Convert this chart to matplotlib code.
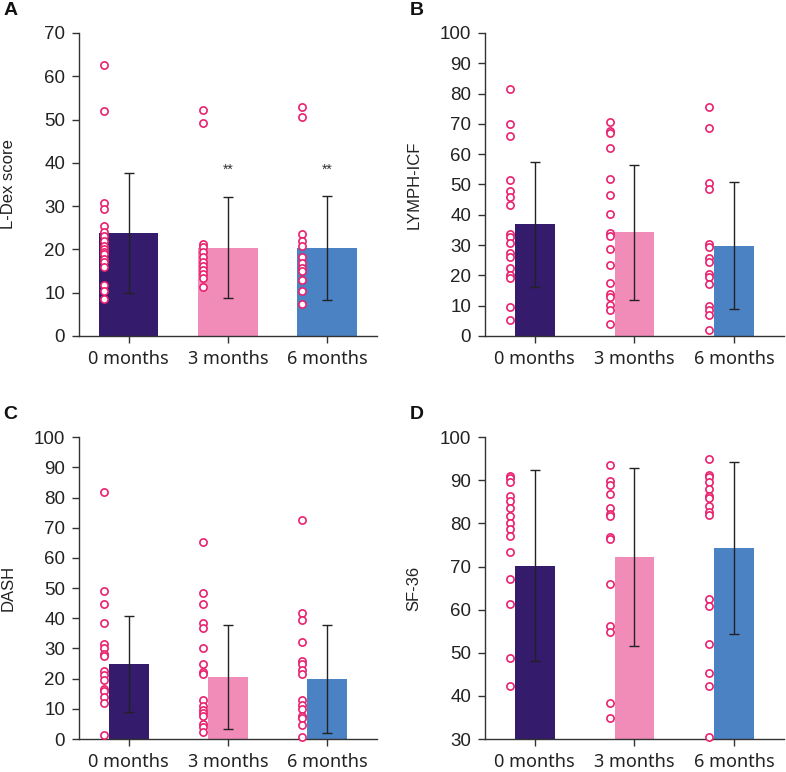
import matplotlib
matplotlib.use("Agg")
import matplotlib.pyplot as plt
import numpy as np

# groups
groups = ["0 months", "3 months", "6 months"]
bar_colors = ["#341b6b", "#f08cb7", "#4a82c3"]
dot_color = "#e8226f"

# A: L-Dex score
ldex_mean = [23.8, 20.4, 20.3]
ldex_sd = [13.9, 11.7, 12.0]
ldex_0 = [62.7, 52.0, 30.8, 29.3, 25.3, 24.1, 23.1, 22.0, 20.7, 20.1, 19.5, 19.0, 17.8, 17.2, 16.0, 11.8, 10.4, 8.6]
ldex_3 = [52.3, 49.3, 21.3, 20.5, 19.5, 18.3, 17.2, 16.2, 15.3, 14.3, 13.3, 11.4]
ldex_6 = [52.8, 50.6, 23.5, 22.0, 20.7, 18.2, 16.8, 15.7, 15.1, 12.9, 10.3, 7.3]

# B: LYMPH-ICF
icf_mean = [36.8, 34.2, 29.8]
icf_sd = [20.6, 22.2, 21.0]
icf_0 = [81.6, 69.8, 66.0, 51.4, 47.9, 45.7, 43.1, 33.6, 32.5, 30.8, 27.3, 26.1, 22.4, 20.0, 19.1, 9.7, 5.2]
icf_3 = [70.6, 67.8, 67.0, 62.1, 51.9, 46.6, 40.3, 34.1, 33.0, 28.6, 23.5, 17.6, 13.8, 12.8, 10.2, 8.6, 4.0]
icf_6 = [75.6, 68.7, 50.4, 48.5, 30.5, 29.5, 25.7, 24.3, 20.5, 19.4, 17.2, 9.8, 8.6, 7.0, 1.9]

# C: DASH
dash_mean = [24.8, 20.6, 19.9]
dash_sd = [15.9, 17.3, 17.8]
dash_0 = [81.7, 49.2, 44.6, 38.3, 31.6, 30.1, 28.3, 27.5, 22.4, 21.3, 19.6, 16.7, 16.0, 14.0, 12.1, 1.3]
dash_3 = [65.4, 48.5, 44.6, 38.3, 36.7, 30.1, 25.0, 22.2, 21.4, 13.0, 10.8, 9.7, 8.6, 7.7, 5.0, 3.9, 2.2]
dash_6 = [72.4, 41.9, 39.6, 32.2, 25.9, 25.0, 22.9, 21.5, 13.0, 11.2, 9.9, 7.5, 6.9, 4.6, 0.6]

# D: SF-36
sf_mean = [70.2, 72.2, 74.3]
sf_sd = [22.2, 20.6, 19.9]
sf_0 = [91.1, 90.5, 89.5, 86.4, 85.3, 83.6, 81.7, 80.1, 78.6, 77.0, 73.3, 67.0, 61.4, 48.9, 42.2]
sf_3 = [93.5, 89.8, 88.8, 86.9, 83.6, 82.2, 81.7, 76.9, 76.4, 65.9, 56.1, 54.8, 38.3, 34.9]
sf_6 = [94.9, 91.3, 90.8, 89.5, 88.0, 86.4, 85.9, 84.1, 82.6, 82.0, 62.5, 60.8, 52.1, 45.2, 42.2, 30.4]

panels = [
    ("A", "L-Dex score", ldex_mean, ldex_sd, [ldex_0, ldex_3, ldex_6], (0, 70), 10, 0.6),
    ("B", "LYMPH-ICF", icf_mean, icf_sd, [icf_0, icf_3, icf_6], (0, 100), 10, 0.4),
    ("C", "DASH", dash_mean, dash_sd, [dash_0, dash_3, dash_6], (0, 100), 10, 0.4),
    ("D", "SF-36", sf_mean, sf_sd, [sf_0, sf_3, sf_6], (30, 100), 10, 0.4),
]

fig = plt.figure(figsize=(7.86, 7.72), dpi=100)
plt.rcParams['font.family'] = ['Liberation Sans', 'DejaVu Sans']

rects = [
    [0.1005, 0.5648, 0.379, 0.3925],
    [0.617, 0.5648, 0.3805, 0.3925],
    [0.1005, 0.0427, 0.379, 0.391],
    [0.617, 0.0427, 0.3805, 0.391],
]

for rect, (letter, ylab, means, sds, dots, ylim, step, bw) in zip(rects, panels):
    ax = fig.add_axes(rect)
    x = np.arange(len(groups))
    ax.bar(x, np.array(means) - ylim[0], bottom=ylim[0], width=bw, color=bar_colors, zorder=1)
    ax.errorbar(x, means, yerr=sds, fmt="none", ecolor="#222222", elinewidth=1.0,
                capsize=3.5, capthick=1.0, zorder=2)
    for i, vals in enumerate(dots):
        ax.plot([i - 0.25] * len(vals), vals, "o", ms=5.2, mfc="white", mec=dot_color,
                mew=1.2, ls="none", zorder=3, clip_on=False)
    ax.set_xlim(-0.5, 2.5)
    ax.set_ylim(*ylim)
    ax.set_yticks(np.arange(ylim[0], ylim[1] + 1, step))
    ax.set_xticks(x)
    ax.set_xticklabels(groups, fontsize=13, family=['Noto Sans', 'DejaVu Sans'], color="#222222")
    ax.tick_params(axis="y", labelsize=13.5, length=5, width=1, color="#333333",
                   pad=5, labelcolor="#222222")
    ax.tick_params(axis="x", length=5, width=1, color="#333333", pad=5)
    for s in ["top", "right"]:
        ax.spines[s].set_visible(False)
    for s in ["left", "bottom"]:
        ax.spines[s].set_color("#333333")
        ax.spines[s].set_linewidth(1)
    ax.set_ylabel(ylab, fontsize=12, color="#222222")
    ax.yaxis.set_label_coords(-0.212, 0.5)
    # panel letter
    l, b, w, h = rect
    fig.text(l - 0.096, b + h + 0.029, letter, fontsize=14, fontweight="bold",
             family=['Liberation Sans', 'DejaVu Sans'], va="center", ha="left", color="#111111")
    if letter == "A":
        for i in [1, 2]:
            ax.text(i, 38.4, "**", ha="center", va="center", fontsize=10, color="#333333")

fig.savefig("out.png", dpi=100)
